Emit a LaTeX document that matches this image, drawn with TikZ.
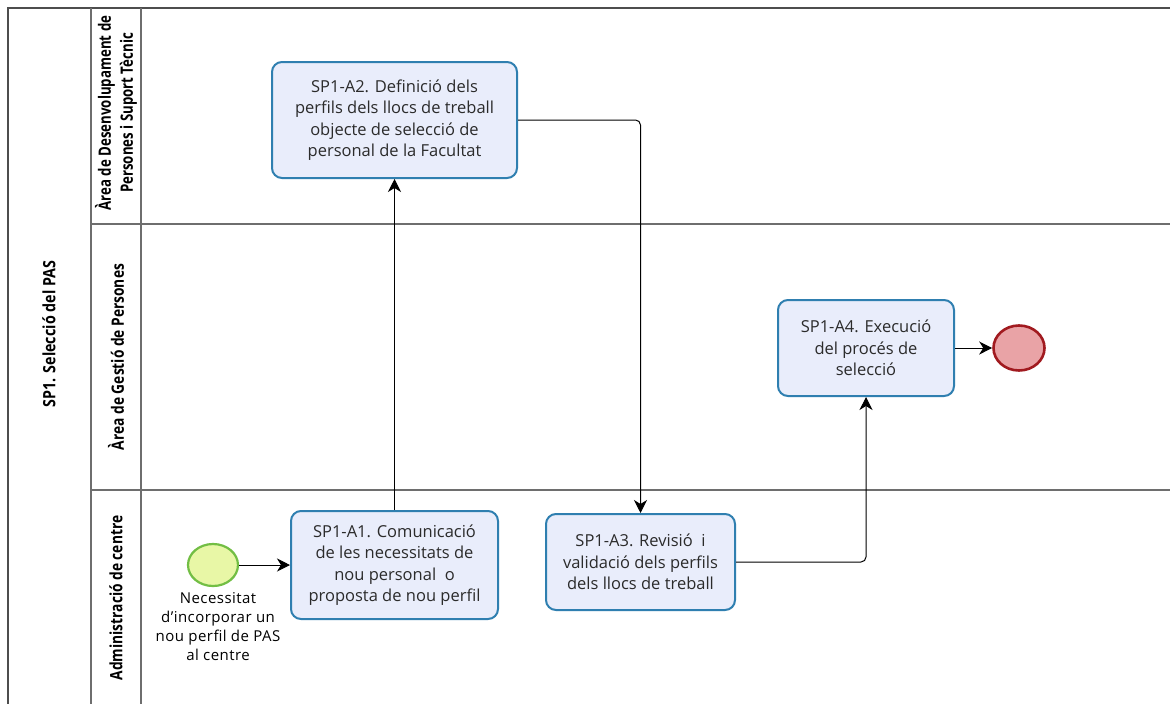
\documentclass[tikz,border=0pt]{standalone}
\usepackage{fontspec}
\setmainfont{Open Sans}
\newfontfamily\lanefont[FakeStretch=0.81]{Open Sans}
\newfontfamily\lanefontnarrow[FakeStretch=0.78]{Open Sans}
\newfontfamily\poolfont[FakeStretch=0.84]{Open Sans}
\usetikzlibrary{arrows.meta,shapes.geometric}

\definecolor{taskfill}{HTML}{E9EDFB}
\definecolor{taskline}{HTML}{2F7FB0}
\definecolor{tasktext}{HTML}{2B2B2B}
\definecolor{startfill}{HTML}{E8F7A6}
\definecolor{startline}{HTML}{72BE44}
\definecolor{endfill}{HTML}{E9A3A6}
\definecolor{endline}{HTML}{A11A1F}
\definecolor{laneline}{HTML}{6E6E6E}

\tikzset{
  task/.style={draw=taskline, line width=2pt, fill=taskfill, rounded corners=10pt,
    align=center, inner sep=0pt, text=tasktext,
    font=\fontsize{16.5}{21.5}\selectfont},
  startevent/.style={ellipse, draw=startline, line width=2.2pt, fill=startfill,
    minimum width=50pt, minimum height=42pt, inner sep=0pt},
  endevent/.style={ellipse, draw=endline, line width=2.6pt, fill=endfill,
    minimum width=51pt, minimum height=45pt, inner sep=0pt},
  eventlabel/.style={align=center, inner sep=0pt, text=black,
    font=\addfontfeature{LetterSpace=3}\fontsize{15}{19}\selectfont},
  flow/.style={draw=black, line width=1pt, -{Stealth[length=13pt,width=13pt,inset=4pt]}},
  lane/.style={draw=laneline, line width=1.3pt},
  lanelabel/.style={rotate=90, inner sep=0pt, align=center, text=black,
    font=\lanefont\bfseries\fontsize{17}{22}\selectfont}
}

\begin{document}
\begin{tikzpicture}[x=1pt,y=-1pt]
  \useasboundingbox (0,0) rectangle (1170,704);
  \fill[white] (0,0) rectangle (1170,704);

  % pool and lanes
  \draw[lane, draw=laneline!70!black] (8,704) -- (8,8) -- (1170,8);
  \draw[lane] (91,8) -- (91,704);
  \draw[lane] (141,8) -- (141,704);
  \draw[lane] (91,224) -- (1170,224);
  \draw[lane] (91,490) -- (1170,490);

  \node[lanelabel, font=\poolfont\bfseries\fontsize{17}{22}\selectfont] (pool) at (49,334) {SP1. Selecció del PAS};
  \node[lanelabel, font=\lanefontnarrow\bfseries\fontsize{17}{22}\selectfont] (laneA) at (116,113) {Àrea de Desenvolupament de\\Persones i Suport Tècnic};
  \node[lanelabel] (laneB) at (116,357) {Àrea de Gestió de Persones};
  \node[lanelabel] (laneC) at (116,598) {Administració de centre};

  % events and tasks
  \node[startevent] (start) at (213,565) {};
  \node[eventlabel, anchor=north] (startlbl) at (218,592)
    {Necessitat\\d'incorporar un\\nou perfil de PAS\\al centre};

  \node[task, minimum width=207pt, minimum height=108pt] (a1) at (394.5,565)
    {SP1-A1. Comunicació\\de les necessitats de\\nou personal \ o\\proposta de nou perfil};
  \node[task, minimum width=245pt, minimum height=116pt] (a2) at (394.5,120)
    {SP1-A2. Definició dels\\perfils dels llocs de treball\\objecte de selecció de\\personal de la Facultat};
  \node[task, minimum width=189pt, minimum height=96pt] (a3) at (640.5,562)
    {SP1-A3. Revisió \ i\\validació dels perfils\\dels llocs de treball};
  \node[task, minimum width=176pt, minimum height=96pt] (a4) at (866,348)
    {SP1-A4. Execució\\del procés de\\selecció};

  \node[endevent] (end) at (1019,348) {};

  % sequence flows
  \draw[flow] (start) -- (a1);
  \draw[flow] (a1) -- (a2);
  \draw[flow, rounded corners=5pt] (a2.east) -| (a3.north);
  \draw[flow, rounded corners=5pt] (a3.east) -| (a4.south);
  \draw[flow] (a4) -- (end);
\end{tikzpicture}
\end{document}
